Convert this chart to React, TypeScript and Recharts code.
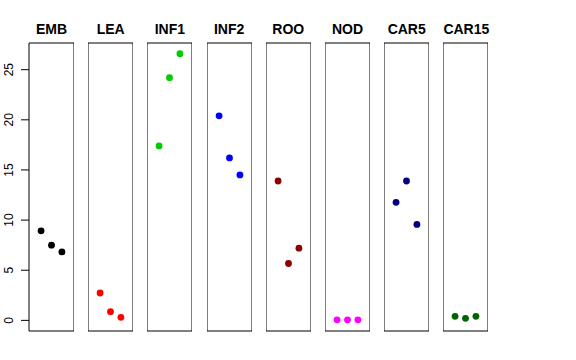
import { ScatterChart, Scatter, XAxis, YAxis, ReferenceArea } from "recharts";

const tissues = ["EMB", "LEA", "INF1", "INF2", "ROO", "NOD", "CAR5", "CAR15"];
const colors = ["#000000", "#FF0000", "#00CD00", "#0000FF", "#8B0000", "#FF00FF", "#000080", "#006400"];
const replicates = [1, 2, 3];
const values = [
  [8.93, 7.5, 6.83],
  [2.73, 0.87, 0.3],
  [17.4, 24.2, 26.6],
  [20.4, 16.2, 14.5],
  [13.9, 5.67, 7.2],
  [0.05, 0.05, 0.05],
  [11.77, 13.9, 9.57],
  [0.4, 0.2, 0.4],
];
const yTicks = [0, 5, 10, 15, 20, 25];

const yDomain: [number, number] = [-1.06, 27.66];
const xDomain: [number, number] = [-0.16, 4.16];
const font = "'Liberation Sans', Arial, Helvetica, sans-serif";

const YTick = (props: any) => {
  const { x, y, payload } = props;
  return (
    <g>
      <line x1={21} x2={29} y1={y} y2={y} stroke="#000" />
      <text
        x={9}
        y={y}
        transform={`rotate(-90 9 ${y})`}
        textAnchor="middle"
        dominantBaseline="central"
        fontSize={12}
        fontFamily={font}
        fill="#000"
      >
        {payload.value}
      </text>
    </g>
  );
};

function Panel({ idx }: { idx: number }) {
  const first = idx === 0;
  const axisW = 29;
  const panelW = 45;
  const left = 29 + idx * 59.2 - (first ? axisW : 0);
  const data = replicates.map((r, i) => ({ x: r, y: values[idx][i] }));
  const color = colors[idx];
  return (
    <div style={{ position: "absolute", left, top: 0 }}>
      <div
        style={{
          position: "absolute",
          left: first ? axisW : 0,
          width: panelW,
          top: 22,
          textAlign: "center",
          fontFamily: font,
          fontWeight: "bold",
          fontSize: 14,
          lineHeight: "14px",
          whiteSpace: "nowrap",
        }}
      >
        {tissues[idx]}
      </div>
      <ScatterChart
        width={panelW + (first ? axisW : 0)}
        height={360}
        margin={{ top: 43, bottom: 29, left: 0, right: 0 }}
      >
        <XAxis type="number" dataKey="x" domain={xDomain} hide />
        <YAxis
          type="number"
          dataKey="y"
          domain={yDomain}
          ticks={yTicks}
          hide={!first}
          width={axisW}
          axisLine={false}
          tickLine={false}
          tick={<YTick />}
          allowDataOverflow
        />
        <ReferenceArea
          x1={xDomain[0]}
          x2={xDomain[1]}
          y1={yDomain[0]}
          y2={yDomain[1]}
          fill="none"
          stroke="#000"
          strokeWidth={1}
          fillOpacity={0}
        />
        <Scatter
          data={data}
          isAnimationActive={false}
          shape={(p: any) => <circle cx={p.cx} cy={p.cy} r={3.4} fill={color} />}
        />
      </ScatterChart>
    </div>
  );
}

export default function App() {
  return (
    <div style={{ position: "absolute", left: 0, top: 0, width: 576, height: 360, background: "#fff" }}>
      {tissues.map((t, i) => (
        <Panel key={t} idx={i} />
      ))}
    </div>
  );
}
